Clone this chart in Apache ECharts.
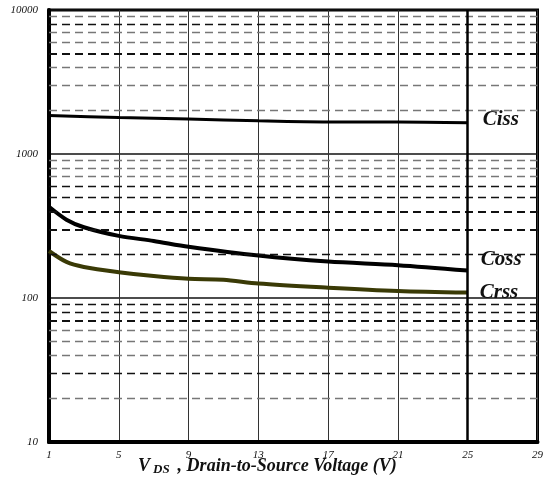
<!DOCTYPE html>
<html>
<head>
<meta charset="utf-8">
<script src="https://cdn.jsdelivr.net/npm/echarts@6/dist/echarts.min.js"></script>
<style>
html, body { margin: 0; padding: 0; background: #fff; }
#chart { width: 546px; height: 483px; }
</style>
</head>
<body>
<div id="chart"></div>
<script>
// capacitance vs drain-source voltage (pF)
var cissV = [1, 5, 9, 13, 17, 21, 25];
var ciss = [1850, 1790, 1750, 1700, 1670, 1670, 1650];
var cossV = [1, 2, 3, 5, 7, 9, 13, 17, 21, 25];
var coss = [430, 350, 310, 270, 249, 227, 197, 179, 169, 155];
var crssV = [1, 2, 3, 5, 7, 9, 11, 13, 17, 21, 25];
var crss = [212, 178, 164, 151, 142, 136, 134, 126, 118, 112, 109];

var xMin = 1, xMax = 29, xStep = 4;
var yMin = 10, yMax = 10000;
var minorGrid = [20, 30, 40, 50, 60, 70, 80, 90,
                 200, 300, 400, 500, 600, 700, 800, 900,
                 2000, 3000, 4000, 5000, 6000, 7000, 8000, 9000];

var serif = 'Liberation Serif';

function pairs(xs, ys) {
	return xs.map(function (x, i) { return [x, ys[i]]; });
}

// the scanned grid has some darker / heavier dashes
var darkLines = [8000, 5000, 600, 500, 400, 300, 200, 90, 80, 70, 30];
var heavyLines = [5000, 400, 300, 70];
function minorStyle(v) {
	var dark = darkLines.indexOf(v) >= 0;
	return {
		type: [8, 5],
		color: dark ? '#111' : '#777',
		width: heavyLines.indexOf(v) >= 0 ? 2.2 : 1.4
	};
}

var gridMarks = minorGrid.map(function (v) {
	return { yAxis: v, lineStyle: minorStyle(v) };
});
gridMarks.push({ xAxis: 25, lineStyle: { type: 'solid', color: '#000', width: 2.5 } });

function curve(name, xs, ys, color, width, dist, dy) {
	return {
		name: name,
		type: 'line',
		data: pairs(xs, ys),
		smooth: 0.3,
		showSymbol: false,
		z: 3,
		lineStyle: { color: color, width: width },
		endLabel: {
			show: true,
			formatter: name,
			distance: dist,
			offset: [0, dy],
			color: '#111',
			fontFamily: serif,
			fontStyle: 'italic',
			fontWeight: 'bold',
			fontSize: 21
		}
	};
}

var myChart = echarts.init(document.getElementById('chart'));
myChart.setOption({
	animation: false,
	backgroundColor: '#fff',
	title: {
		text: '{v|V}{s|DS}{v|, Drain-to-Source Voltage (V)}',
		left: 138,
		top: 456,
		padding: 0,
		textStyle: {
			rich: {
				v: { fontFamily: serif, fontStyle: 'italic', fontWeight: 'bold', fontSize: 18, lineHeight: 20, color: '#111' },
				s: { fontFamily: serif, fontStyle: 'italic', fontWeight: 'bold', fontSize: 13, lineHeight: 11,
					verticalAlign: 'bottom', padding: [0, 8, 0, 3], color: '#111' }
			}
		}
	},
	grid: {
		left: 49, right: 7, top: 10, bottom: 41,
		show: true, borderColor: '#000', borderWidth: 3
	},
	xAxis: {
		type: 'value',
		min: xMin, max: xMax, interval: xStep,
		axisLine: { lineStyle: { color: '#000', width: 4 } },
		axisTick: { show: false },
		axisLabel: { margin: 8, color: '#111', fontFamily: serif, fontStyle: 'italic', fontSize: 11 },
		splitLine: { show: true, lineStyle: { color: '#333', width: 1 } }
	},
	yAxis: {
		type: 'log',
		logBase: 10,
		min: yMin, max: yMax,
		axisLine: { show: true, lineStyle: { color: '#000', width: 4 } },
		axisTick: { show: false },
		axisLabel: {
			margin: 11, color: '#111', fontFamily: serif, fontStyle: 'italic', fontSize: 11,
			formatter: function (v) { return String(Math.round(v)); }
		},
		splitLine: { show: true, lineStyle: { color: '#111', width: 1.5 } }
	},
	series: [
		{
			type: 'line',
			data: [],
			silent: true,
			z: 1,
			markLine: {
				silent: true,
				symbol: ['none', 'none'],
				label: { show: false },
				animation: false,
				data: gridMarks
			}
		},
		curve('Ciss', cissV, ciss, '#000', 3, 15, -3),
		curve('Coss', cossV, coss, '#000', 4, 13, -11),
		curve('Crss', crssV, crss, '#3a3a06', 4, 12, 0)
	]
});
</script>
</body>
</html>
